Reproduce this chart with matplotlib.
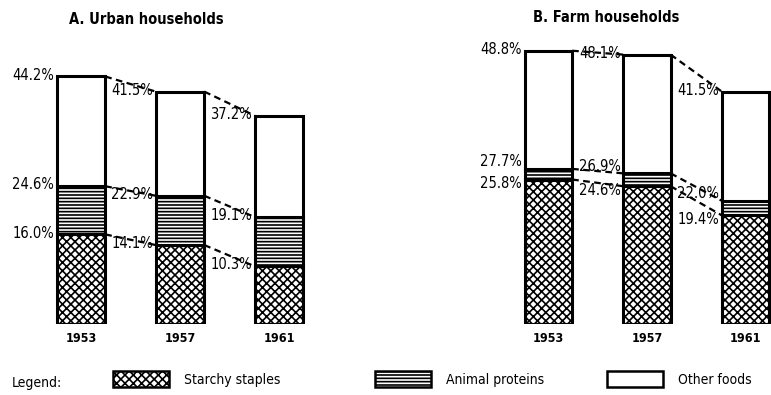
import matplotlib
matplotlib.use('Agg')
import matplotlib.pyplot as plt
from matplotlib.patches import Patch
import numpy as np

plt.rcParams['font.family'] = 'DejaVu Sans'
plt.rcParams['font.stretch'] = 'condensed'
plt.rcParams['hatch.linewidth'] = 1.2

# share of food in total consumption expenditure, cumulative levels (%)
years = ['1953', '1957', '1961']
urban_starchy = [16.0, 14.1, 10.3]
urban_animal = [24.6, 22.9, 19.1]
urban_total = [44.2, 41.5, 37.2]
farm_starchy = [25.8, 24.6, 19.4]
farm_animal = [27.7, 26.9, 22.0]
farm_total = [48.8, 48.1, 41.5]

CROSS = 'xxxx'
LINES = '-----'

W, H = 771, 395
fig = plt.figure(figsize=(W / 100, H / 100), dpi=100)


def draw_panel(ax, starchy, animal, total, width):
    x = np.arange(len(years))
    starchy = np.array(starchy)
    animal = np.array(animal)
    total = np.array(total)
    style = dict(color='white', edgecolor='black', linewidth=2.2, zorder=2)
    ax.bar(x, starchy, width, hatch=CROSS, **style)
    ax.bar(x, animal - starchy, width, bottom=starchy, hatch=LINES, **style)
    ax.bar(x, total - animal, width, bottom=animal, **style)

    # dashed links between neighbouring bars
    for level in (starchy, animal, total):
        for i in range(len(x) - 1):
            ax.plot([x[i] + width / 2, x[i + 1] - width / 2], [level[i], level[i + 1]],
                    color='black', lw=1.6, ls=(0, (3, 2)), zorder=1)

    for i in range(len(x)):
        shift = 4 if animal[i] - starchy[i] < 3 else 0
        for val, dy in ((total[i], 0), (animal[i], shift), (starchy[i], -shift)):
            ax.annotate(f'{val:.1f}%', (x[i] - width / 2, val), xytext=(-2, dy + 1),
                        textcoords='offset points', ha='right', va='center',
                        fontsize=10.5, zorder=3)

    ax.set_ylim(0, 50)
    ax.set_xticks(x, years, fontsize=9, fontweight='bold')
    ax.set_yticks([])
    ax.tick_params(length=0, pad=6)
    for s in ax.spines.values():
        s.set_visible(False)
    ax.patch.set_visible(False)


ax1 = fig.add_axes([30 / W, 71 / H, 300 / W, 280 / H])
draw_panel(ax1, urban_starchy, urban_animal, urban_total, 0.49)
ax1.set_xlim(-0.515, 2.515)

ax2 = fig.add_axes([470 / W, 71 / H, 301 / W, 280 / H])
draw_panel(ax2, farm_starchy, farm_animal, farm_total, 0.48)
ax2.set_xlim(-0.797, 2.259)

fig.text(146 / W, 1 - 19 / H, 'A. Urban households', ha='center', va='center',
         fontsize=10.5, fontweight='bold')
fig.text(606 / W, 1 - 18 / H, 'B. Farm households', ha='center', va='center',
         fontsize=10.5, fontweight='bold')

# legend row
fig.text(12 / W, 1 - 383 / H, 'Legend:', ha='left', va='center', fontsize=10)
entries = [(CROSS, 'Starchy staples', 113),
           (LINES, 'Animal proteins', 375),
           ('', 'Other foods', 607)]
for hatch, label, xpos in entries:
    handle = Patch(facecolor='white', edgecolor='black', hatch=hatch, linewidth=1.8)
    fig.legend(handles=[handle], labels=[label], loc='center left',
               bbox_to_anchor=(xpos / W, 1 - 379 / H), frameon=False,
               handlelength=4, handleheight=1.5, handletextpad=1.1,
               fontsize=10, borderpad=0, borderaxespad=0)

fig.savefig('out.png', dpi=100)
